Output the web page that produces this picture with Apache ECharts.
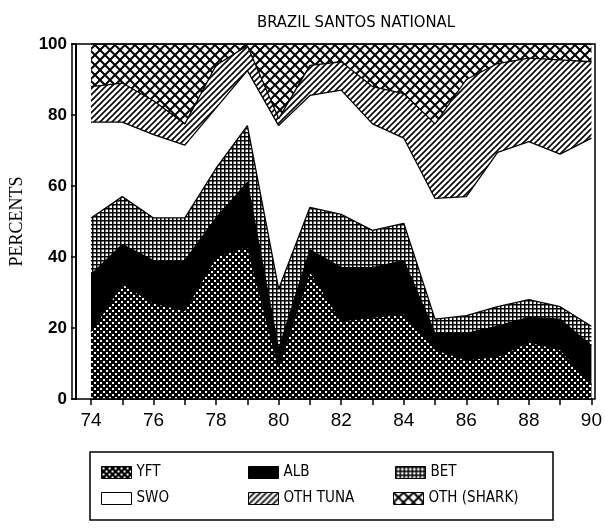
<!DOCTYPE html>
<html>
<head>
<meta charset="utf-8">
<script src="https://cdn.jsdelivr.net/npm/echarts@6/dist/echarts.min.js"></script>
<style>
  html, body { margin: 0; padding: 0; background: #fff; }
  #chart { width: 605px; height: 529px; }
</style>
</head>
<body>
<div id="chart"></div>
<script>
// years and percent shares, stacked bottom to top
var years = ['74', '75', '76', '77', '78', '79', '80', '81', '82', '83', '84', '85', '86', '87', '88', '89', '90'];
var yft     = [19, 32.5, 27, 25, 40, 43, 9, 36, 22, 23, 24, 14, 11, 12, 16, 14, 4];
var alb     = [16, 11, 12, 14, 11, 18, 5, 6, 15, 14, 15, 4.5, 7.5, 8.5, 7, 8.5, 11];
var bet     = [16, 13.5, 12, 12, 14, 16, 17, 12, 15, 10.5, 10.5, 4, 5, 5.5, 5, 3.5, 5.5];
var swo     = [27, 21, 23.5, 20.5, 17, 15.5, 46, 31.5, 35, 30, 24, 34, 33.5, 43.5, 44.5, 43, 53];
var othTuna = [10, 11, 9.5, 6, 12, 7, 2, 8.5, 8, 10.5, 12.5, 21, 33, 25, 23.5, 26.5, 21.5];
var shark   = [12, 11, 16, 22.5, 6, 0.5, 21, 6, 5, 12, 14, 22.5, 10, 5.5, 4, 4.5, 5];

var narrow = "'Liberation Sans Narrow', 'DejaVu Sans Condensed', 'Liberation Sans', sans-serif";

function makePattern(size, draw) {
  var c = document.createElement('canvas');
  c.width = size;
  c.height = size;
  var ctx = c.getContext('2d');
  draw(ctx, size);
  return { image: c, repeat: 'repeat' };
}

// black crosshatch with small white holes
var patYft = makePattern(6, function (ctx, s) {
  ctx.fillStyle = '#000';
  ctx.fillRect(0, 0, s, s);
  ctx.fillStyle = '#fff';
  ctx.fillRect(1, 1, 2, 2);
  ctx.fillRect(4, 4, 2, 2);
});
// fine square grid
var patBet = makePattern(4, function (ctx, s) {
  ctx.fillStyle = '#fff';
  ctx.fillRect(0, 0, s, s);
  ctx.fillStyle = '#000';
  ctx.fillRect(0, 0, s, 1.5);
  ctx.fillRect(0, 0, 1.5, s);
});
// diagonal hatch
var patTuna = makePattern(6, function (ctx, s) {
  ctx.fillStyle = '#fff';
  ctx.fillRect(0, 0, s, s);
  ctx.strokeStyle = '#000';
  ctx.lineWidth = 1.6;
  ctx.beginPath();
  ctx.moveTo(-1, s + 1); ctx.lineTo(s + 1, -1);
  ctx.moveTo(-1, 1); ctx.lineTo(1, -1);
  ctx.moveTo(s - 1, s + 1); ctx.lineTo(s + 1, s - 1);
  ctx.stroke();
});
// open diagonal crosshatch
var patShark = makePattern(10, function (ctx, s) {
  ctx.fillStyle = '#fff';
  ctx.fillRect(0, 0, s, s);
  ctx.strokeStyle = '#000';
  ctx.lineWidth = 2;
  ctx.beginPath();
  ctx.moveTo(0, 0); ctx.lineTo(s, s);
  ctx.moveTo(0, s); ctx.lineTo(s, 0);
  ctx.stroke();
});

var seriesDefs = [
  { name: 'YFT', values: yft, fill: patYft },
  { name: 'ALB', values: alb, fill: '#000' },
  { name: 'BET', values: bet, fill: patBet },
  { name: 'SWO', values: swo, fill: '#fff' },
  { name: 'OTH TUNA', values: othTuna, fill: patTuna },
  { name: 'OTH (SHARK)', values: shark, fill: patShark }
];

var series = seriesDefs.map(function (d) {
  return {
    name: d.name,
    type: 'line',
    stack: 'total',
    showSymbol: false,
    silent: true,
    data: d.values,
    itemStyle: { color: d.fill },
    lineStyle: { color: '#000', width: 1.3 },
    areaStyle: { color: d.fill, opacity: 1 }
  };
});

// legend slots: swatch left / top
var legendPos = [[101, 465], [248, 465], [395, 465], [101, 491], [248, 491], [393, 491]];
var legends = seriesDefs.map(function (d, i) {
  return {
    left: legendPos[i][0],
    top: legendPos[i][1],
    padding: 0,
    icon: 'rect',
    itemWidth: 30,
    itemHeight: 12,
    selectedMode: false,
    textStyle: { fontFamily: narrow, fontSize: 15, color: '#000' },
    data: [{ name: d.name, itemStyle: { color: d.fill, borderColor: '#000', borderWidth: 1 } }]
  };
});

var chart = echarts.init(document.getElementById('chart'), null, { renderer: 'canvas' });
chart.setOption({
  backgroundColor: '#fff',
  animation: false,
  title: {
    text: 'BRAZIL SANTOS NATIONAL',
    left: 252,
    top: 9,
    textStyle: { fontFamily: narrow, fontSize: 16.5, fontWeight: 'normal', color: '#000' }
  },
  legend: legends,
  grid: { left: 87, right: 11, top: 44, bottom: 130 },
  xAxis: {
    type: 'category',
    boundaryGap: false,
    data: years,
    axisLine: { lineStyle: { color: '#000', width: 2 } },
    axisTick: { interval: 0, length: 6, lineStyle: { color: '#000', width: 1.5 } },
    axisLabel: {
      interval: 1,
      margin: 12,
      fontFamily: "'Liberation Sans', sans-serif",
      fontSize: 19,
      color: '#000'
    },
    splitLine: { show: false }
  },
  yAxis: {
    type: 'value',
    min: 0,
    max: 100,
    interval: 20,
    offset: 15,
    name: 'PERCENTS',
    nameLocation: 'middle',
    nameGap: 50,
    nameTextStyle: { fontFamily: "'Liberation Serif', serif", fontSize: 18, color: '#000' },
    axisLine: { show: true, lineStyle: { color: '#000', width: 2 } },
    axisTick: { show: true, length: 5, lineStyle: { color: '#000', width: 1.5 } },
    axisLabel: {
      margin: 9,
      fontFamily: "'Liberation Sans', sans-serif",
      fontWeight: 'bold',
      fontSize: 17,
      color: '#000'
    },
    splitLine: { show: false }
  },
  graphic: [
    {
      // plot frame, starting at the offset y axis
      type: 'rect',
      z: 10,
      shape: { x: 72, y: 44, width: 523, height: 355 },
      style: { fill: 'none', stroke: '#000', lineWidth: 1.5 }
    },
    {
      // legend box
      type: 'rect',
      shape: { x: 90, y: 452, width: 463, height: 68 },
      style: { fill: 'none', stroke: '#000', lineWidth: 1.5 }
    }
  ],
  series: series
});
</script>
</body>
</html>
